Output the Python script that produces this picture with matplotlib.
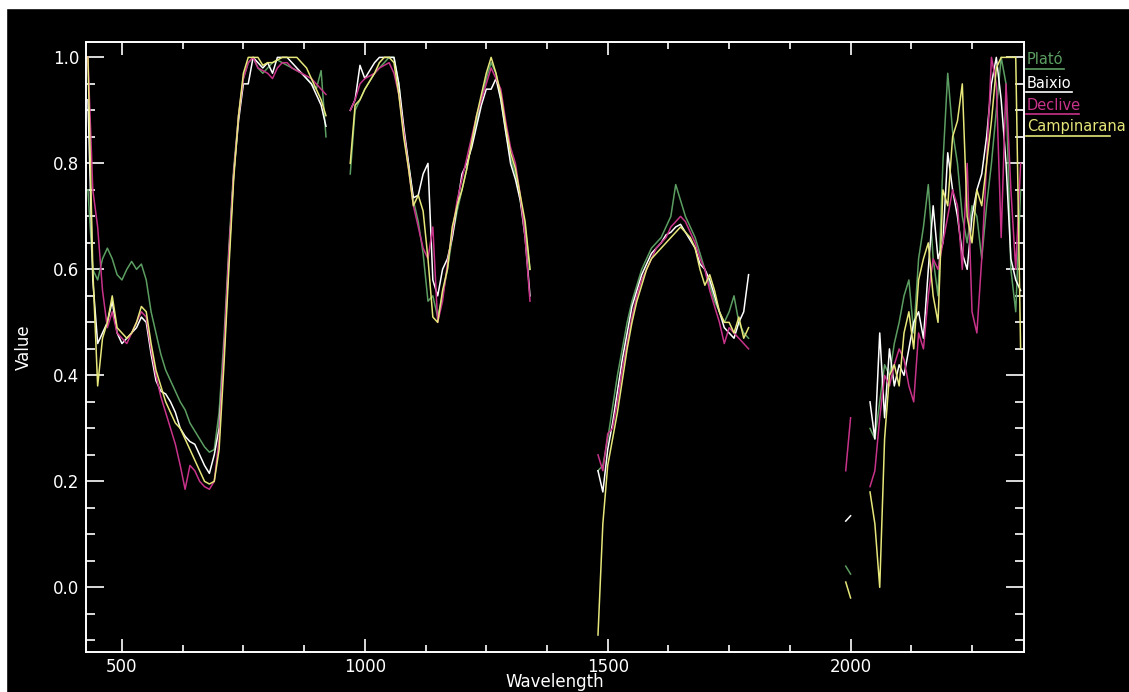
import numpy as np
import matplotlib
matplotlib.use("Agg")
import matplotlib.pyplot as plt
from matplotlib.ticker import MultipleLocator
from matplotlib.lines import Line2D
from matplotlib.patches import Rectangle

nan = np.nan

# wavelength grids of the four spectral windows (nm)
wl_vis = list(range(430, 930, 10))
wl_nir = list(range(970, 1350, 10))
wl_swir1 = list(range(1480, 1800, 10))
wl_swir2 = list(range(1990, 2360, 10))

names = ["Plató", "Baixio", "Declive", "Campinarana"]
colors = ["#5c9e62", "#ffffff", "#c8338a", "#e6e67a"]

# Plató
plato_vis = [0.75, 0.60, 0.58, 0.62, 0.64, 0.62, 0.59, 0.58, 0.60, 0.615,
             0.60, 0.61, 0.58, 0.52, 0.48, 0.44, 0.41, 0.39, 0.37, 0.35,
             0.335, 0.31, 0.295, 0.28, 0.265, 0.255, 0.26, 0.33, 0.47, 0.64,
             0.79, 0.89, 0.96, 0.99, 1.0, 0.98, 0.97, 0.98, 0.99, 0.995,
             0.99, 0.985, 0.98, 0.975, 0.97, 0.96, 0.95, 0.94, 0.975, 0.85]
plato_nir = [0.78, 0.90, 0.92, 0.94, 0.955, 0.97, 0.98, 0.99, 1.0, 1.0,
             0.95, 0.86, 0.80, 0.73, 0.69, 0.63, 0.54, 0.55, 0.51, 0.55,
             0.60, 0.66, 0.71, 0.75, 0.79, 0.84, 0.88, 0.92, 0.96, 0.99,
             0.97, 0.92, 0.86, 0.81, 0.78, 0.73, 0.68, 0.60]
plato_swir1 = [0.22, 0.23, 0.28, 0.34, 0.40, 0.45, 0.50, 0.54, 0.57, 0.60,
               0.62, 0.64, 0.65, 0.66, 0.68, 0.70, 0.76, 0.73, 0.70, 0.68,
               0.66, 0.63, 0.60, 0.57, 0.54, 0.52, 0.50, 0.52, 0.55, 0.50,
               0.48, 0.47]
plato_swir2 = [0.04, 0.025, nan, nan, nan, 0.30, 0.28, 0.35, 0.42, 0.40,
               0.46, 0.50, 0.55, 0.58, 0.48, 0.62, 0.68, 0.76, 0.62, 0.55,
               0.80, 0.97, 0.86, 0.80, 0.70, 0.65, 0.72, 0.70, 0.62, 0.72,
               0.80, 0.90, 1.0, 0.95, 0.60, 0.52, 0.75]

# Baixio
baixio_vis = [0.92, 0.58, 0.46, 0.48, 0.50, 0.54, 0.48, 0.46, 0.47, 0.48,
              0.49, 0.51, 0.50, 0.44, 0.39, 0.37, 0.365, 0.35, 0.33, 0.30,
              0.285, 0.275, 0.27, 0.25, 0.23, 0.215, 0.25, 0.30, 0.44, 0.62,
              0.78, 0.88, 0.95, 0.95, 1.0, 0.99, 0.98, 0.99, 0.97, 1.0,
              1.0, 1.0, 0.99, 0.98, 0.97, 0.96, 0.95, 0.93, 0.91, 0.87]
baixio_nir = [0.90, 0.92, 0.985, 0.96, 0.975, 0.99, 1.0, 1.0, 1.0, 1.0,
              0.95, 0.87, 0.80, 0.735, 0.74, 0.78, 0.80, 0.58, 0.55, 0.60,
              0.62, 0.66, 0.72, 0.78, 0.80, 0.83, 0.87, 0.91, 0.94, 0.94,
              0.96, 0.92, 0.86, 0.80, 0.77, 0.73, 0.66, 0.55]
baixio_swir1 = [0.22, 0.18, 0.26, 0.31, 0.37, 0.43, 0.48, 0.53, 0.56, 0.59,
                0.61, 0.63, 0.64, 0.65, 0.665, 0.67, 0.68, 0.685, 0.67, 0.655,
                0.64, 0.61, 0.60, 0.58, 0.55, 0.52, 0.49, 0.48, 0.47, 0.50,
                0.52, 0.59]
baixio_swir2 = [0.125, 0.135, nan, nan, nan, 0.35, 0.28, 0.48, 0.32, 0.45,
                0.38, 0.42, 0.40, 0.45, 0.50, 0.52, 0.47, 0.60, 0.72, 0.62,
                0.65, 0.82, 0.75, 0.70, 0.63, 0.60, 0.70, 0.75, 0.78, 0.85,
                0.95, 1.0, 0.92, 0.80, 0.62, 0.58, 0.56]

# Declive
declive_vis = [1.0, 0.75, 0.68, 0.56, 0.49, 0.52, 0.48, 0.47, 0.46, 0.48,
               0.50, 0.52, 0.51, 0.45, 0.40, 0.36, 0.33, 0.30, 0.27, 0.23,
               0.185, 0.23, 0.22, 0.20, 0.19, 0.185, 0.20, 0.28, 0.45, 0.63,
               0.78, 0.89, 0.96, 0.99, 1.0, 0.98, 0.975, 0.97, 0.96, 0.98,
               0.99, 0.99, 0.98, 0.975, 0.97, 0.965, 0.96, 0.95, 0.94, 0.93]
declive_nir = [0.90, 0.92, 0.95, 0.96, 0.965, 0.97, 0.98, 0.985, 0.99, 0.97,
               0.93, 0.86, 0.79, 0.72, 0.68, 0.64, 0.62, 0.68, 0.50, 0.54,
               0.61, 0.67, 0.73, 0.77, 0.81, 0.85, 0.89, 0.92, 0.95, 0.98,
               0.96, 0.94, 0.88, 0.83, 0.80, 0.74, 0.66, 0.54]
declive_swir1 = [0.25, 0.22, 0.29, 0.30, 0.35, 0.41, 0.46, 0.51, 0.55, 0.58,
                 0.60, 0.62, 0.64, 0.65, 0.66, 0.68, 0.69, 0.70, 0.69, 0.67,
                 0.65, 0.62, 0.60, 0.56, 0.53, 0.50, 0.46, 0.49, 0.48, 0.47,
                 0.46, 0.45]
declive_swir2 = [0.22, 0.32, nan, nan, nan, 0.19, 0.22, 0.32, 0.40, 0.38,
                 0.42, 0.45, 0.43, 0.38, 0.35, 0.48, 0.45, 0.55, 0.62, 0.60,
                 0.65, 0.70, 0.75, 0.72, 0.60, 0.80, 0.52, 0.48, 0.62, 0.80,
                 1.0, 0.95, 0.66, 0.95, 0.75, 0.60, 0.80]

# Campinarana
campina_vis = [1.0, 0.60, 0.38, 0.47, 0.50, 0.55, 0.49, 0.48, 0.47, 0.48,
               0.50, 0.53, 0.52, 0.46, 0.41, 0.38, 0.35, 0.33, 0.31, 0.30,
               0.28, 0.26, 0.24, 0.22, 0.20, 0.195, 0.20, 0.26, 0.42, 0.60,
               0.77, 0.89, 0.97, 1.0, 1.0, 1.0, 0.985, 0.99, 0.99, 0.995,
               1.0, 1.0, 1.0, 1.0, 0.99, 0.98, 0.96, 0.94, 0.92, 0.89]
campina_nir = [0.80, 0.91, 0.92, 0.94, 0.955, 0.97, 0.99, 1.0, 1.0, 0.99,
               0.93, 0.85, 0.79, 0.72, 0.74, 0.71, 0.62, 0.51, 0.50, 0.56,
               0.60, 0.68, 0.72, 0.75, 0.79, 0.84, 0.89, 0.93, 0.97, 1.0,
               0.97, 0.93, 0.87, 0.82, 0.79, 0.74, 0.69, 0.60]
campina_swir1 = [-0.09, 0.12, 0.23, 0.28, 0.33, 0.39, 0.45, 0.50, 0.54, 0.57,
                 0.60, 0.62, 0.63, 0.64, 0.65, 0.66, 0.67, 0.68, 0.67, 0.66,
                 0.64, 0.60, 0.57, 0.59, 0.56, 0.52, 0.50, 0.50, 0.48, 0.51,
                 0.47, 0.49]
campina_swir2 = [0.01, -0.02, nan, nan, nan, 0.18, 0.12, 0.0, 0.28, 0.40,
                 0.42, 0.38, 0.48, 0.52, 0.45, 0.58, 0.62, 0.65, 0.55, 0.50,
                 0.75, 0.72, 0.85, 0.88, 0.95, 0.70, 0.65, 0.75, 0.72, 0.80,
                 0.88, 0.98, 1.0, 1.0, 1.0, 1.0, 0.45]

series = [
    [plato_vis, plato_nir, plato_swir1, plato_swir2],
    [baixio_vis, baixio_nir, baixio_swir1, baixio_swir2],
    [declive_vis, declive_nir, declive_swir1, declive_swir2],
    [campina_vis, campina_nir, campina_swir1, campina_swir2],
]
grids = [wl_vis, wl_nir, wl_swir1, wl_swir2]


def join(parts):
    out = []
    for p in parts:
        out += list(p) + [nan]
    return np.array(out, dtype=float)


wl = join(grids)

fig = plt.figure(figsize=(11.29, 6.92), dpi=100, facecolor="black")
ax = fig.add_axes([86 / 1129, 1 - 652 / 692, (1024 - 86) / 1129, (652 - 42) / 692])
ax.set_facecolor("black")

for name, col, parts in zip(names, colors, series):
    ax.plot(wl, join(parts), color=col, lw=1.1)

ax.set_xlim(426, 2357)
ax.set_ylim(-0.122, 1.029)
ax.xaxis.set_major_locator(MultipleLocator(500))
ax.xaxis.set_minor_locator(MultipleLocator(125))
ax.yaxis.set_minor_locator(MultipleLocator(0.05))
ax.set_yticks([0.0, 0.2, 0.4, 0.6, 0.8, 1.0])
ax.set_yticklabels(["0.0", "0.2", "0.4", "0.6", "0.8", "1.0"])

for s in ax.spines.values():
    s.set_color("white")
    s.set_linewidth(1.4)

ax.tick_params(axis="x", which="major", direction="in", length=9.5, width=1.2,
               colors="white", top=True, bottom=True, labelsize=12, pad=4)
ax.tick_params(axis="x", which="minor", direction="in", length=5, width=1.2,
               colors="white", top=True, bottom=True)
ax.tick_params(axis="y", which="major", direction="in", length=13, width=1.2,
               colors="white", left=True, right=True, labelsize=12, pad=5)
ax.tick_params(axis="y", which="minor", direction="in", length=6.5, width=1.2,
               colors="white", left=True, right=True)

ax.set_xlabel("Wavelength", color="white", fontsize=12, labelpad=-2)
ax.set_ylabel("Value", color="white", fontsize=12, labelpad=14)

# legend drawn as coloured, underlined labels beside the plot
leg_y = [60, 83, 105, 127]
for name, col, yy in zip(names, colors, leg_y):
    fig.text(1027 / 1129, 1 - yy / 692, name, color=col, fontsize=10.5,
             ha="left", va="center")
    fig.lines.append(Line2D([1026 / 1129, (1026 + 7.6 * len(name)) / 1129],
                            [1 - (yy + 9) / 692] * 2, color=col, lw=1.2,
                            transform=fig.transFigure))

# white border strips along the top and left of the original image
fig.patches.append(Rectangle((0, 1 - 8 / 692), 1, 8 / 692, color="white",
                             transform=fig.transFigure, zorder=10))
fig.patches.append(Rectangle((0, 0), 6 / 1129, 1, color="white",
                             transform=fig.transFigure, zorder=10))

fig.savefig("out.png", dpi=100, facecolor="black")
